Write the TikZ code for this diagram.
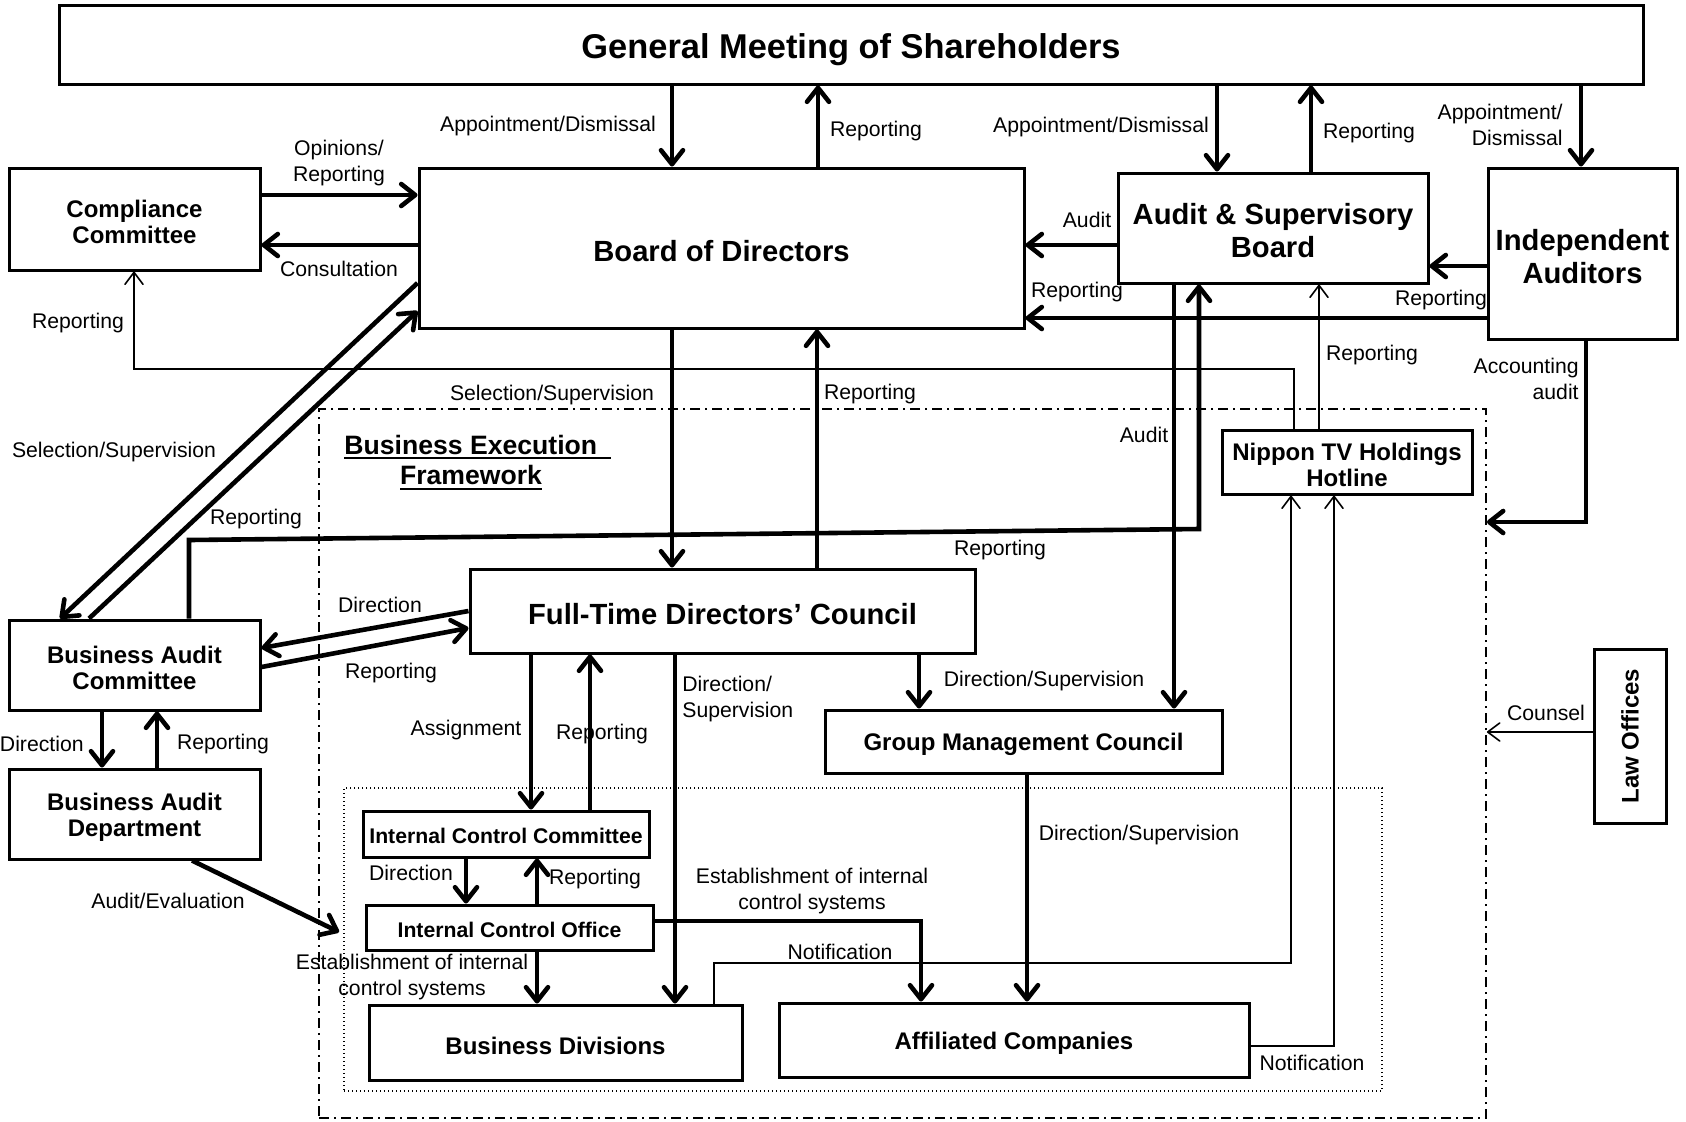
\documentclass[tikz,border=0pt]{standalone}
\usepackage{fontspec}
\setmainfont{Liberation Sans}
\usetikzlibrary{arrows.meta,fit}
\newcommand\fLbl{\fontsize{10.6}{12.8}\selectfont}
\newcommand\fBig{\fontsize{14.6}{16.5}\selectfont\bfseries}
\newcommand\fMed{\fontsize{12}{13.1}\selectfont\bfseries}
\newcommand\fSm{\fontsize{10.6}{12}\selectfont\bfseries}
\newcommand\fTitle{\fontsize{17.2}{20}\selectfont\bfseries}
\newcommand\fBef{\fontsize{13.3}{15.5}\selectfont\bfseries}
\begin{document}
\begin{tikzpicture}[x=0.5pt,y=-0.5pt,
  box/.style={draw, line width=1.5pt, inner sep=0pt, fill=white},
  txt/.style={inner sep=0pt, align=center, yshift=-1.5pt},
  thk/.style={line width=2.3pt, -{Straight Barb[length=7pt,width=11pt,round]}},
  thn/.style={line width=0.8pt, -{Straight Barb[length=6pt,width=9pt,round]}},
  lbl/.style={font=\fLbl, inner sep=0pt, align=center},
  dashdot/.style={draw, line width=0.9pt, inner sep=0pt, dash pattern=on 5pt off 2.5pt on 1pt off 2.5pt},
  dots/.style={draw, line width=0.8pt, inner sep=0pt, dash pattern=on 0.7pt off 1.3pt}]
\useasboundingbox (0,0) rectangle (1686,1121);

% frames
\node[dashdot, fit={(319,409) (1486,1118)}] (frame) {};
\node[dots, fit={(344,788) (1382,1091)}] (dot) {};

% boxes
\node[box, fit={(59,5) (1643,84)}, label={[txt, font=\fTitle, yshift=-1pt]center:General Meeting of Shareholders}] (gms) {};
\node[box, fit={(9,168) (260,270)}, label={[txt, font=\fMed]center:{Compliance\\Committee}}] (cc) {};
\node[box, fit={(419,168) (1024,328)}, label={[txt, font=\fBig]center:Board of Directors}] (bod) {};
\node[box, fit={(1118,173) (1428,283)}, label={[txt, font=\fBig]center:{Audit \& Supervisory\\Board}}] (asb) {};
\node[box, fit={(1488,168) (1677,339)}, label={[txt, font=\fBig]center:{Independent\\Auditors}}] (ia) {};
\node[box, fit={(1222,430) (1472,494)}, label={[txt, font=\fMed]center:{Nippon TV Holdings\\Hotline}}] (hot) {};
\node[box, fit={(470,569) (975,653)}, label={[txt, font=\fBig]center:Full-Time Directors’ Council}] (fdc) {};
\node[box, fit={(9,620) (260,710)}, label={[txt, font=\fMed]center:{Business Audit\\Committee}}] (bac) {};
\node[box, fit={(9,769) (260,859)}, label={[txt, font=\fMed]center:{Business Audit\\Department}}] (bad) {};
\node[box, fit={(825,710) (1222,773)}, label={[txt, font=\fMed]center:Group Management Council}] (gmc) {};
\node[box, fit={(1594,649) (1666,823)}, label={[inner sep=0pt, font=\fMed, rotate=90]center:Law Offices}] (lo) {};
\node[box, fit={(363,811) (649,857)}, label={[txt, font=\fSm, yshift=0.5pt]center:Internal Control Committee}] (icc) {};
\node[box, fit={(366,905) (653,950)}, label={[txt, font=\fSm, yshift=0.5pt]center:Internal Control Office}] (ico) {};
\node[box, fit={(369,1005) (742,1080)}, label={[txt, font=\fMed]center:Business Divisions}] (bd) {};
\node[box, fit={(779,1003) (1249,1077)}, label={[txt, font=\fMed]center:Affiliated Companies}] (ac) {};

% Business Execution Framework title
\node[font=\fBef, anchor=west, inner sep=0pt] (bef1) at (344,445) {Business Execution};
\node[font=\fBef, inner sep=0pt] (bef2) at (471,475) {Framework};
\draw[line width=1.2pt] (344,458) -- (611,458);
\draw[line width=1.2pt] (400,489) -- (542,489);

% GMS connectors
\draw[thk] (672,0 |- gms.south) -- (672,0 |- bod.north);
\draw[thk] (818,0 |- bod.north) -- (818,0 |- gms.south);
\draw[thk] (1217,0 |- gms.south) -- (1217,0 |- asb.north);
\draw[thk] (1311,0 |- asb.north) -- (1311,0 |- gms.south);
\draw[thk] (1581,0 |- gms.south) -- (1581,0 |- ia.north);

% compliance
\draw[thk] (cc.east |- 0,195) -- (bod.west |- 0,195);
\draw[thk] (bod.west |- 0,245) -- (cc.east |- 0,245);

% audit board / auditors
\draw[thk] (asb.west |- 0,245) -- (bod.east |- 0,245);
\draw[thk] (ia.west |- 0,266) -- (asb.east |- 0,266);
\draw[thk] (ia.west |- 0,318) -- (bod.east |- 0,318);

% hotline reporting lines
\draw[thn] (1294,0 |- hot.north) -- (1294,369) -- (134,369) -- (134,0 |- cc.south);
\draw[thn] (1319,0 |- hot.north) -- (1319,0 |- asb.south);

% board <-> full-time council
\draw[thk] (672,0 |- bod.south) -- (672,0 |- fdc.north);
\draw[thk] (817,0 |- fdc.north) -- (817,0 |- bod.south);

% board <-> business audit committee
\draw[thk] (bod.west |- 0,283) -- (60,0 |- bac.north);
\draw[thk] (89,0 |- bac.north) -- (bod.west |- 0,311);

% BAC -> ASB reporting
\draw[thk] (189,0 |- bac.north) -- (189,540) -- (1199,529) -- (1199,0 |- asb.south);
% ASB -> GMC audit
\draw[thk] (1174,0 |- asb.south) -- (1174,0 |- gmc.north);

% BAC <-> FTDC
\draw[thk] (fdc.west |- 0,611) -- (bac.east |- 0,648);
\draw[thk] (bac.east |- 0,667) -- (fdc.west |- 0,628);

% BAC <-> BAD
\draw[thk] (102,0 |- bac.south) -- (102,0 |- bad.north);
\draw[thk] (157,0 |- bad.north) -- (157,0 |- bac.south);

% Audit/Evaluation
\coordinate (aev) at (339,932);
\draw[thk] (192,0 |- bad.south) -- (aev);

% Independent auditors accounting audit
\draw[thk] (1586,0 |- ia.south) -- (1586,522) -- (frame.east |- 0,522);
% Law offices counsel
\draw[thn] (lo.west |- 0,732) -- (frame.east |- 0,732);

% FTDC down
\draw[thk] (919,0 |- fdc.south) -- (919,0 |- gmc.north);
\draw[thk] (531,0 |- fdc.south) -- (531,0 |- icc.north);
\draw[thk] (590,0 |- icc.north) -- (590,0 |- fdc.south);
\draw[thk] (675,0 |- fdc.south) -- (675,0 |- bd.north);
\draw[thk] (1027,0 |- gmc.south) -- (1027,0 |- ac.north);

% ICC <-> ICO
\draw[thk] (466,0 |- icc.south) -- (466,0 |- ico.north);
\draw[thk] (537,0 |- ico.north) -- (537,0 |- icc.south);
\draw[thk] (537,0 |- ico.south) -- (537,0 |- bd.north);
\draw[thk] (ico.east |- 0,921) -- (921,921) -- (921,0 |- ac.north);

% notifications
\draw[thn] (714,0 |- bd.north) -- (714,963) -- (1291,963) -- (1291,0 |- hot.south);
\draw[thn] (ac.east |- 0,1046) -- (1334,1046) -- (1334,0 |- hot.south);

% labels
\node[lbl] (l1) at (548,126) {Appointment/Dismissal};
\node[lbl] (l2) at (876,131) {Reporting};
\node[lbl] (l3) at (1101,127) {Appointment/Dismissal};
\node[lbl] (l4) at (1369,133) {Reporting};
\node[lbl, anchor=east, align=right] (l5) at (1563,125) {Appointment/\\Dismissal};
\node[lbl] (l6) at (339,163) {Opinions/\\Reporting};
\node[lbl] (l7) at (339,269) {Consultation};
\node[lbl] (l8) at (78,323) {Reporting};
\node[lbl] (l9) at (1087,220) {Audit};
\node[lbl] (l10) at (1077,292) {Reporting};
\node[lbl] (l11) at (1441,300) {Reporting};
\node[lbl] (l12) at (1372,355) {Reporting};
\node[lbl, anchor=east, align=right] (l13) at (1579,379) {Accounting\\audit};
\node[lbl] (l14) at (552,395) {Selection/Supervision};
\node[lbl] (l15) at (870,394) {Reporting};
\node[lbl] (l16) at (114,452) {Selection/Supervision};
\node[lbl] (l17) at (256,519) {Reporting};
\node[lbl] (l18) at (1144,435) {Audit};
\node[lbl] (l19) at (1000,550) {Reporting};
\node[lbl] (l20) at (380,605) {Direction};
\node[lbl] (l21) at (391,673) {Reporting};
\node[lbl, anchor=east] (l22) at (84,744) {Direction};
\node[lbl] (l23) at (223,744) {Reporting};
\node[lbl] (l24) at (1044,681) {Direction/Supervision};
\node[lbl, anchor=west, align=left] (l25) at (682,699) {Direction/\\Supervision};
\node[lbl] (l26) at (466,730) {Assignment};
\node[lbl] (l27) at (602,734) {Reporting};
\node[lbl] (l28) at (1546,713) {Counsel};
\node[lbl] (l29) at (1139,835) {Direction/Supervision};
\node[lbl] (l30) at (411,873) {Direction};
\node[lbl] (l31) at (595,879) {Reporting};
\node[lbl] (l32) at (812,891) {Establishment of internal\\control systems};
\node[lbl] (l33) at (168,901) {Audit/Evaluation};
\node[lbl] (l34) at (840,952) {Notification};
\node[lbl] (l35) at (412,977) {Establishment of internal\\control systems};
\node[lbl] (l36) at (1312,1063) {Notification};
\end{tikzpicture}
\end{document}
